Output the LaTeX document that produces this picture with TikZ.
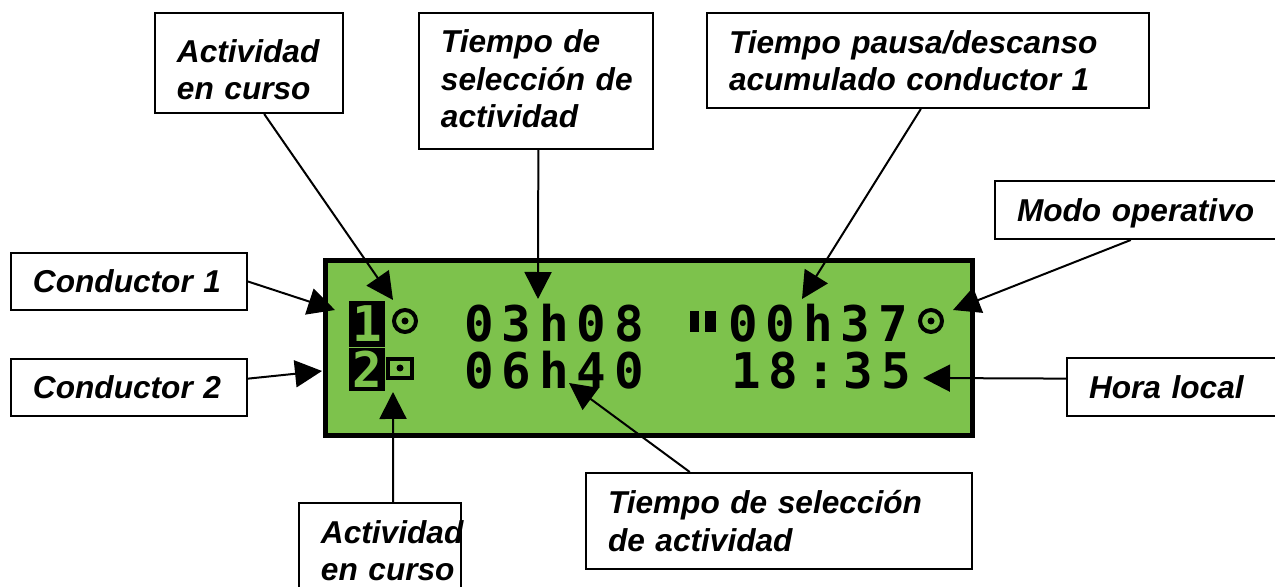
\documentclass[tikz,border=0pt]{standalone}
\usepackage{fontspec}
\setmainfont{Liberation Sans}
\newfontfamily\lcdfont[LetterSpace=16]{DejaVu Sans Mono Bold}
\usetikzlibrary{calc,arrows.meta}

\definecolor{lcdgreen}{HTML}{7DC24C}

\tikzset{
  caja/.style={draw,line width=0.04cm,fill=white,anchor=north west,inner xsep=0.44cm,inner ysep=0pt,align=left,
    font=\fontsize{18pt}{21.3pt}\selectfont\bfseries\itshape},
  flecha/.style={line width=0.04cm,-{Triangle[length=0.54cm,width=0.54cm]}},
  lcdtext/.style={text=black,inner sep=0pt,font=\lcdfont\fontsize{28pt}{28pt}\selectfont},
  bloque/.style={fill=black,text=lcdgreen,inner sep=0pt,minimum width=0.72cm,font=\lcdfont\fontsize{28pt}{28pt}\selectfont},
  anillo/.style={circle,draw,line width=0.08cm,minimum size=0.44cm,inner sep=0pt}
}

\begin{document}
\begin{tikzpicture}[x=0.02cm,y=-0.02cm]

\useasboundingbox (0,0) rectangle (1275,587);

% pantalla
\node (lcd) at (649,348) [draw,line width=0.1cm,fill=lcdgreen,minimum width=12.94cm,minimum height=3.5cm,inner sep=0pt] {};

\node (tsel) at (554,323.5) [lcdtext] {03h08};
\node (tpau) at (818,323.5) [lcdtext] {00h37};
\node (tsdos) at (554,370.5) [lcdtext] {06h40};
\node (hora) at (821,370.5) [lcdtext] {18:35};

\node (uno) at (367,324) [bloque,minimum height=0.92cm] {1};
\node (dos) at (367,369.5) [bloque,minimum height=0.86cm] {2};

\foreach \name/\xpos in {runo/405,rtres/931}
  \node (\name) at (\xpos,321) [anillo] {};
\node (cdos) at (400,368.5) [draw,line width=0.08cm,minimum width=0.48cm,minimum height=0.38cm,inner sep=0pt] {};
\foreach \xpos/\ypos in {405/321,931/321,400/368}
  \fill (\xpos,\ypos) circle (3.5);

\fill (690,311) rectangle (699,332);
\fill (705,311) rectangle (716,332);

% cajas
\node (actsup) at (154,12) [caja,text width=2.88cm,minimum height=2cm] {\rule{0pt}{21pt}Actividad\\en curso};
\node (selsup) at (418,12) [caja,text width=3.8cm,minimum height=2.72cm] {Tiempo de\\\leavevmode\rlap{selección de}\\actividad\rule[-2.3pt]{0pt}{0pt}};
\node (pausa) at (706,12) [caja,text width=7.96cm,minimum height=1.9cm] {Tiempo pausa/descanso\\acumulado conductor 1};
\node (modo) at (994,180) [caja,text width=5.3cm,minimum height=1.16cm] {\rule{0pt}{16.5pt}Modo operativo};
\node (cond1) at (10,252) [caja,text width=3.84cm,minimum height=1.14cm] {Conductor 1};
\node (cond2) at (10,358) [caja,text width=3.84cm,minimum height=1.14cm] {Conductor 2};
\node (local) at (1066,357) [caja,text width=3.4cm,minimum height=1.16cm] {Hora local};
\node (actinf) at (298,502) [caja,text width=2.36cm,minimum height=1.76cm] {\leavevmode\rlap{\rule{0pt}{17pt}Actividad}\\\leavevmode\rlap{en curso}};
\node (selinf) at (585,472) [caja,text width=6.84cm,minimum height=1.92cm] {Tiempo de selección\\de actividad};

% puntas
\coordinate (pA) at (393,300);
\coordinate (pB) at (538,299);
\coordinate (pC) at (802,299);
\coordinate (pD) at (953,310);
\coordinate (pE) at (923,378);
\coordinate (pF) at (335,310);
\coordinate (pG) at (322,371);
\coordinate (pH) at (393,392);
\coordinate (pI) at (569,383);

\draw[flecha] ($(actsup.south west)!0.58!(actsup.south east)$) to (pA);
\draw[flecha] ($(selsup.south west)!0.51!(selsup.south east)$) to (pB);
\draw[flecha] ($(pausa.south west)!0.484!(pausa.south east)$) to (pC);
\draw[flecha] ($(modo.south west)!0.44!(modo.south east)$) to (pD);
\draw[flecha] ($(local.north west)!0.36!(local.south west)$) to (pE);
\draw[flecha] (cond1.east) to (pF);
\draw[flecha] ($(cond2.north east)!0.35!(cond2.south east)$) to (pG);
\draw[flecha] ($(actinf.north west)!0.58!(actinf.north east)$) to (pH);
\draw[flecha] ($(selinf.north west)!0.27!(selinf.north east)$) to (pI);

\end{tikzpicture}
\end{document}
